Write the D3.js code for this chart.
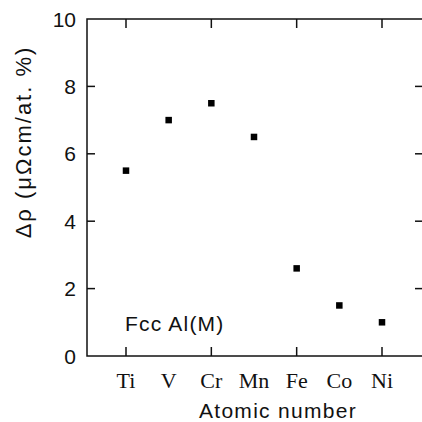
<!DOCTYPE html>
<html>
<head>
<meta charset="utf-8">
<script src="https://cdn.jsdelivr.net/npm/d3@7"></script>
<style>
  body { margin: 0; background: #fff; }
  svg { display: block; }
</style>
</head>
<body>
<div id="viz"></div>
<script>
// data
var elements = ['Ti', 'V', 'Cr', 'Mn', 'Fe', 'Co', 'Ni'];
var atomicNumbers = [22, 23, 24, 25, 26, 27, 28];
var resistivity = [5.5, 7.0, 7.5, 6.5, 2.6, 1.5, 1.0];
var yTicks = [0, 2, 4, 6, 8, 10];
var xTicks = [22, 24, 26, 28];

var width = 422;
var height = 422;
// right border sits just past the edge of the picture
var margin = { left: 87, right: -2, top: 19, bottom: 66 };

var svg = d3.select('#viz')
    .append('svg')
    .attr('width', width)
    .attr('height', height);

var x = d3.scaleLinear()
    .domain([22, 28])
    .range([126, 382]);

var y = d3.scaleLinear()
    .domain([0, 10])
    .range([height - margin.bottom, margin.top]);

var x0 = margin.left, x1 = width - margin.right;
var y0 = height - margin.bottom, y1 = margin.top;

var sans = 'Liberation Sans, Arial, Helvetica, sans-serif';
var serif = 'Liberation Serif, Times New Roman, serif';

// frame
svg.append('rect')
    .attr('x', x0)
    .attr('y', y1)
    .attr('width', x1 - x0)
    .attr('height', y0 - y1)
    .attr('fill', 'none')
    .attr('stroke', '#111')
    .attr('stroke-width', 1.5);

// inward ticks
var tickLen = 9;
yTicks.forEach(function (t) {
    if (t === 0 || t === 10) return;
    svg.append('line')
        .attr('x1', x0).attr('x2', x0 + 8)
        .attr('y1', y(t)).attr('y2', y(t))
        .attr('stroke', '#111').attr('stroke-width', 1.5);
    svg.append('line')
        .attr('x1', x1).attr('x2', x1 - tickLen)
        .attr('y1', y(t)).attr('y2', y(t))
        .attr('stroke', '#111').attr('stroke-width', 1.5);
});

xTicks.forEach(function (t) {
    svg.append('line')
        .attr('x1', x(t)).attr('x2', x(t))
        .attr('y1', y0).attr('y2', y0 - 9)
        .attr('stroke', '#111').attr('stroke-width', 1.5);
    svg.append('line')
        .attr('x1', x(t)).attr('x2', x(t))
        .attr('y1', y1).attr('y2', y1 + 9)
        .attr('stroke', '#111').attr('stroke-width', 1.5);
});

// y tick labels
svg.selectAll('text.ylab')
    .data(yTicks)
    .enter().append('text')
    .attr('class', 'ylab')
    .attr('x', 76)
    .attr('y', function (d) { return y(d); })
    .attr('dy', '0.36em')
    .attr('text-anchor', 'end')
    .attr('font-family', sans)
    .attr('font-size', 21)
    .attr('fill', '#111')
    .text(function (d) { return d; });

// x tick labels (element symbols)
svg.selectAll('text.xlab')
    .data(elements)
    .enter().append('text')
    .attr('class', 'xlab')
    .attr('x', function (d, i) { return x(atomicNumbers[i]); })
    .attr('y', 388)
    .attr('text-anchor', 'middle')
    .attr('font-family', serif)
    .attr('font-size', 22)
    .attr('fill', '#111')
    .text(function (d) { return d; });

// axis titles
svg.append('text')
    .attr('x', 278)
    .attr('y', 418)
    .attr('text-anchor', 'middle')
    .attr('font-family', sans)
    .attr('font-size', 21)
    .attr('letter-spacing', 1.3)
    .attr('fill', '#111')
    .text('Atomic number');

svg.append('text')
    .attr('transform', 'translate(31,142) rotate(-90)')
    .attr('text-anchor', 'middle')
    .attr('font-family', sans)
    .attr('font-size', 22)
    .attr('letter-spacing', 2)
    .attr('fill', '#111')
    .text('\u0394\u03c1 (\u03bc\u03a9cm/at. %)');

svg.append('text')
    .attr('x', 125)
    .attr('y', 331)
    .attr('font-family', sans)
    .attr('font-size', 21)
    .attr('letter-spacing', 1.2)
    .attr('fill', '#111')
    .text('Fcc Al(M)');

// square markers
var s = 6.5;
svg.selectAll('rect.pt')
    .data(resistivity)
    .enter().append('rect')
    .attr('class', 'pt')
    .attr('x', function (d, i) { return x(atomicNumbers[i]) - s / 2; })
    .attr('y', function (d) { return y(d) - s / 2; })
    .attr('width', s)
    .attr('height', s)
    .attr('fill', '#000');
</script>
</body>
</html>
